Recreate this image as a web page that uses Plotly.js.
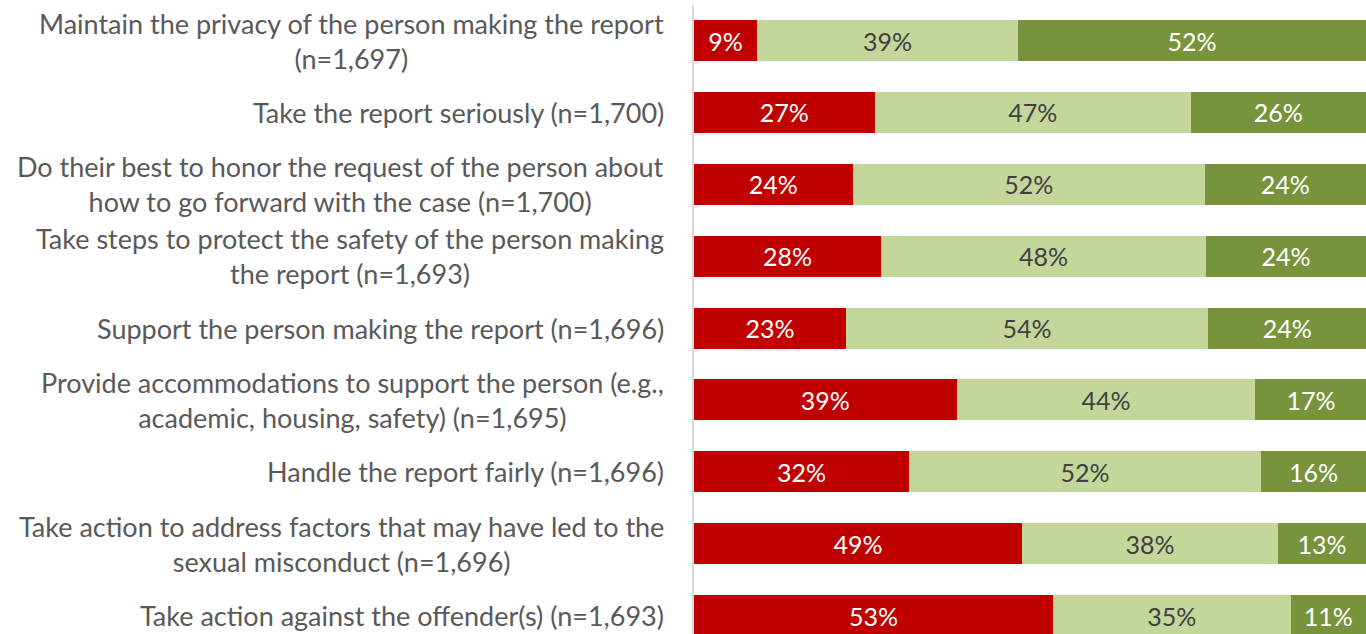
<!DOCTYPE html>
<html>
<head>
<meta charset="utf-8">
<script src="https://cdn.plot.ly/plotly-3.0.1.min.js"></script>
<style>html,body{margin:0;padding:0;background:#fff;}#chart{width:1366px;height:634px;}</style>
</head>
<body>
<div id="chart"></div>
<script>
const categories = [
  "Maintain the privacy of the person making the report<br>(n=1,697)",
  "Take the report seriously (n=1,700)",
  "Do their best to honor the request of the person about<br>how to go forward with the case (n=1,700)",
  "Take steps to protect the safety of the person making<br>the report (n=1,693)",
  "Support the person making the report (n=1,696)",
  "Provide accommodations to support the person (e.g.,<br>academic, housing, safety) (n=1,695)",
  "Handle the report fairly (n=1,696)",
  "Take action to address factors that may have led to the<br>sexual misconduct (n=1,696)",
  "Take action against the offender(s) (n=1,693)"
];
const redValues   = [9.4, 26.9, 23.6, 27.8, 22.6, 39.1, 32.0, 48.8, 53.4];
const lightValues = [38.8, 47.0, 52.4, 48.4, 53.9, 44.4, 52.4, 38.1, 35.4];
const darkValues  = [51.8, 26.1, 24.0, 23.8, 23.6, 16.6, 15.6, 13.1, 11.2];

const FONT = "Lato, 'Open Sans', sans-serif";
function seg(vals, color, txtColor, name) {
  return {
    type: 'bar', orientation: 'h', name: name,
    y: categories, x: vals,
    marker: {color: color, line: {width: 0}},
    width: 0.57,
    texttemplate: '%{x:.0f}%',
    textposition: 'inside',
    insidetextanchor: 'middle',
    textangle: 0,
    constraintext: 'none',
    insidetextfont: {family: FONT, size: 25, color: txtColor},
    hoverinfo: 'skip'
  };
}
const data = [
  seg(redValues, '#C00000', '#ffffff', 'red'),
  seg(lightValues, '#C4D79B', '#404040', 'light'),
  seg(darkValues, '#77933C', '#ffffff', 'dark')
];
const annotations = categories.map(c => ({
  xref: 'paper', yref: 'y', x: 0, y: c,
  xanchor: 'right', yanchor: 'middle', xshift: -28,
  align: 'center', showarrow: false, text: c,
  font: {family: FONT, size: 27, color: '#595959'}
}));
const layout = {
  width: 1366, height: 634,
  margin: {l: 694, r: 0, t: 5, b: 0, pad: 0},
  barmode: 'stack', bargap: 0.43, showlegend: false,
  paper_bgcolor: '#ffffff', plot_bgcolor: '#ffffff',
  xaxis: {range: [0, 100], showgrid: false, zeroline: false, showticklabels: false, showline: false, fixedrange: true},
  yaxis: {type: 'category', range: [8.257, -0.494], showgrid: false, zeroline: false, showticklabels: false,
          showline: true, linecolor: '#d9d9d9', linewidth: 2, ticks: '', fixedrange: true},
  annotations: annotations,
  uniformtext: {mode: false}
};
Plotly.newPlot('chart', data, layout, {displayModeBar: false, staticPlot: true});
</script>
</body>
</html>
